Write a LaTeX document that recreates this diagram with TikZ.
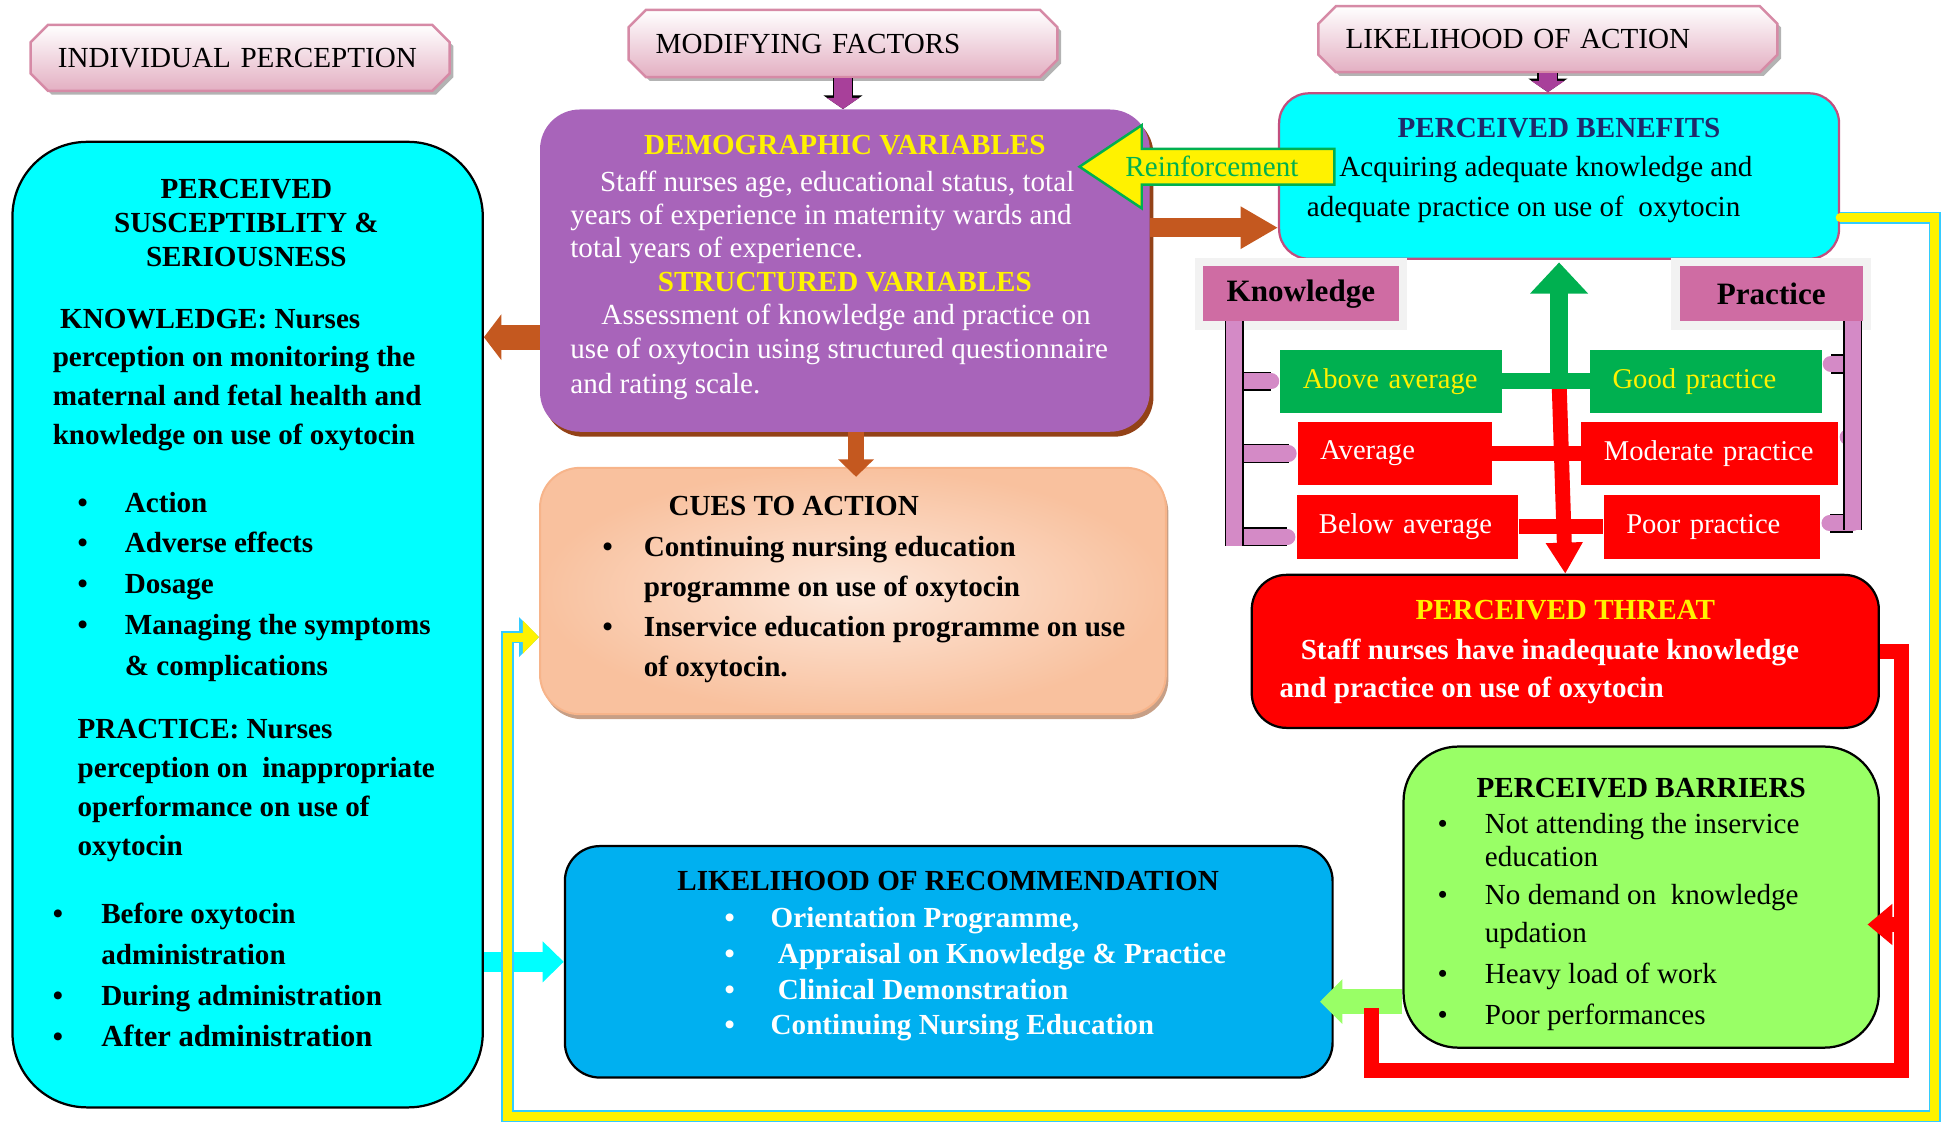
\documentclass[tikz,border=0pt]{standalone}
\usepackage{fontspec}
\setmainfont{Liberation Serif}
\usetikzlibrary{arrows.meta,shapes.misc,shadows}

\definecolor{bannerpink}{HTML}{E3AFC2}
\definecolor{bannerline}{HTML}{D68AA6}
\definecolor{plum}{HTML}{A864BA}
\definecolor{rust}{HTML}{C4581F}
\definecolor{peach}{HTML}{F7B48A}
\definecolor{peachlt}{HTML}{FDE8DB}
\definecolor{aqua}{HTML}{00FFFF}
\definecolor{rosy}{HTML}{C24F7E}
\definecolor{navy}{HTML}{1F2A6B}
\definecolor{leaf}{HTML}{00B050}
\definecolor{lime}{HTML}{99FF66}
\definecolor{sky}{HTML}{00B0F0}
\definecolor{mauve}{HTML}{CF6CA3}
\definecolor{lilac}{HTML}{D48AC6}
\definecolor{grape}{HTML}{A8409A}
\definecolor{skyline}{HTML}{33CCFF}

\newcommand{\bul}[1]{\makebox[#1][l]{\textbullet}}

\tikzset{
  every node/.style={inner sep=0pt, font=\fontsize{11.7}{13.5}\selectfont},
  banner/.style={chamfered rectangle, chamfered rectangle xsep=7pt, inner xsep=7pt, align=left,
    draw=bannerline, line width=1pt, top color=white, bottom color=bannerpink,
    drop shadow={shadow xshift=1.5pt, shadow yshift=-1.5pt, fill=gray, opacity=.6}},
  rbox/.style={draw=black, line width=0.9pt, rounded corners=12pt},
  tag/.style={fill=mauve, draw=gray!10, line width=3.5pt, font=\bfseries\fontsize{12.5}{14}\selectfont,
    drop shadow={shadow xshift=0.8pt, shadow yshift=-2pt, fill=mauve!60!gray, opacity=1}},
  lvl/.style={align=left, inner xsep=9pt, minimum height=25.5pt, font=\fontsize{11.5}{13}\selectfont},
  hd/.style={font=\bfseries\fontsize{11.7}{13.5}\selectfont},
  txt/.style={anchor=north west, align=left, font=\fontsize{11.7}{#1}\selectfont},
  btxt/.style={anchor=north west, align=left, font=\bfseries\fontsize{11.7}{#1}\selectfont},
  parrow/.style={draw=grape, line width=7pt, -{Triangle[width=13pt,length=4.5pt]},
    preaction={draw=black, line width=8.4pt, -{Triangle[width=15.5pt,length=5.5pt]}}},
  barrow/.style={draw=rust, line width=6.5pt, -{Triangle[width=14pt,length=7pt]}},
  rline/.style={draw=red, line width=6pt, line join=miter},
  gbar/.style={draw=leaf, line width=6.5pt, line cap=round},
  brk/.style={draw=lilac, line width=6.5pt, preaction={draw=black, line width=7.7pt}},
  tab/.style={draw=lilac, line width=6.5pt, line cap=round, preaction={draw=black, line width=7.7pt}},
  yline/.style={draw=yellow, line width=3.6pt, line cap=round, -{Triangle[width=13pt,length=6.5pt]},
    preaction={draw=skyline, line width=5pt, -{Triangle[width=15.5pt,length=8pt]}}},
}

\begin{document}
\begin{tikzpicture}[x=0.5pt, y=-0.5pt]
\useasboundingbox (0,0) rectangle (1568,903);

% headings
\node[banner, text width=146.5pt, minimum height=26.5pt] (ip) at (193,46.5) {INDIVIDUAL PERCEPTION};
\node[banner, text width=150.5pt, minimum height=27pt] (mf) at (677.5,35) {MODIFYING FACTORS};
\node[banner, text width=162.5pt, minimum height=26.5pt] (la) at (1244,31.5) {LIKELIHOOD OF ACTION};

% boxes
\node[rbox, fill=aqua, rounded corners=30pt, minimum width=189pt, minimum height=388pt] (ps) at (199,502) {};
\node[fill=plum, rounded corners=16pt, minimum width=245pt, minimum height=129.5pt,
  drop shadow={shadow xshift=1.5pt, shadow yshift=-2pt, fill=rust!75!black, opacity=1}] (demo) at (679,217.5) {};
\node[draw=peach, line width=0.8pt, inner color=peachlt, outer color=peach!75!peachlt, rounded corners=16pt,
  minimum width=251.5pt, minimum height=99pt,
  drop shadow={shadow xshift=1pt, shadow yshift=-2pt, fill=peach!60!gray, opacity=1}] (cues) at (685.5,475) {};
\node[rbox, fill=aqua, draw=rosy, minimum width=225pt, minimum height=66.5pt] (pb) at (1253,141.5) {};
\node[rbox, fill=red, rounded corners=14pt, minimum width=252pt, minimum height=61.5pt] (pt) at (1258,523.5) {};
\node[rbox, fill=lime, rounded corners=22pt, minimum width=191pt, minimum height=121pt] (bar) at (1319,721) {};
\node[rbox, fill=sky, rounded corners=14pt, minimum width=308.5pt, minimum height=93pt] (lr) at (762.5,773) {};

% knowledge and practice levels
\node[tag, minimum width=82pt, minimum height=25.5pt] (knw) at (1045.5,236) {Knowledge};
\node[tag, minimum width=77pt, minimum height=25.5pt] (prc) at (1423.5,236) {Practice};
\node[lvl, fill=leaf, text=yellow, text width=71pt] (aa) at (1118,306.5) {Above average};
\node[lvl, fill=leaf, text=yellow, text width=75pt] (gp) at (1371,306.5) {Good practice};
\node[lvl, fill=red, text=white, text width=60pt] (av) at (1121,364.5) {Average};
\node[lvl, fill=red, text=white, text width=85pt] (mp) at (1374,364.5) {Moderate practice};
\node[lvl, fill=red, text=white, text width=71pt] (ba) at (1131,423.5) {Below average};
\node[lvl, fill=red, text=white, text width=69pt] (pp) at (1376,423.5) {Poor practice};

\coordinate (ktop) at (992,258); \coordinate (kbot) at (992,439);
\coordinate (ptop) at (1489,258); \coordinate (pbot) at (1489,426);
\draw[tab] (ktop |- aa.west) -- ([xshift=-3.5pt]aa.west);
\draw[tab] (ktop |- av.west) -- ([xshift=-3.5pt]av.west);
\draw[tab] ([yshift=-4pt]ktop |- ba.west) -- ([xshift=-3.5pt,yshift=-4pt]ba.west);
\draw[tab] ([yshift=7pt]ptop |- gp.east) -- ([xshift=3.5pt,yshift=7pt]gp.east);
\draw[tab] ([yshift=6.5pt]ptop |- mp.east) -- ([xshift=-2pt,yshift=6.5pt]ptop |- mp.east);
\draw[tab] ([yshift=1.5pt]ptop |- pp.east) -- ([xshift=3.5pt,yshift=1.5pt]pp.east);
\draw[brk] (ktop) -- (kbot);
\draw[brk] (ptop) -- (pbot);

\draw[rline] (av.east) -- (mp.west);
\draw[rline] (ba.east) -- (pp.west);
\draw[rline, -{Triangle[width=14pt,length=12.5pt]}] (aa.east -| pb.south) -- (pt.north);
\draw[gbar] (aa.east) -- (gp.west);
\draw[draw=leaf, line width=7.5pt, -{Triangle[width=22.5pt,length=12.5pt]}] (aa.east -| pb.south) -- ([yshift=-1pt]pb.south);

% arrows between boxes
\draw[parrow] (mf.south) -- (mf.south |- demo.north);
\draw[parrow] (la.south) -- (la.south |- pb.north);
\draw[barrow] ([xshift=4.5pt]demo.south) -- ([xshift=4.5pt,yshift=-4pt]demo.south |- cues.north);
\draw[barrow, line width=10pt, -{Triangle[width=18pt,length=7pt]}] ([yshift=-26.75pt]demo.west) -- ([yshift=-26.75pt]demo.west -| ps.east);
\draw[barrow, line width=7.5pt, -{Triangle[width=16pt,length=15pt]}] ([yshift=17.25pt]demo.east) -- ([yshift=17.25pt]demo.east -| pb.west);

\node[minimum width=77pt, minimum height=14pt] (reinf) at (995,134) {};
\draw[fill=yellow, draw=leaf, line width=1pt] (reinf.north east) -- (reinf.north west) -- ++(0,9.5pt)
  -- ([xshift=-25pt]reinf.west) -- ([yshift=-9.5pt]reinf.south west) -- (reinf.south west) -- (reinf.south east) -- cycle;
\node[text=leaf] (reinftx) at (974,134) {Reinforcement};

\draw[draw=aqua, line width=8pt, -{Triangle[width=16pt,length=8.5pt]}] (lr.west -| ps.east) -- (lr.west);
\draw[draw=lime, line width=10pt, shorten >=-5.5pt, -{Triangle[width=17.5pt,length=9pt]}] ([yshift=-42pt]bar.west) -- ([yshift=-42pt]bar.west -| lr.east);

\coordinate (rc) at (1528,860); \coordinate (rend) at (1102,810); \coordinate (rbr) at (1528,743);
\draw[rline] (pt.east) -| (rc) -| (rend);
\draw[rline, shorten >=-5pt, -{Triangle[width=16pt,length=10pt]}] (rbr) -- (rbr -| bar.east);

\coordinate (yr) at (1555,897); \coordinate (yl) at (408,512);
\draw[yline] ([yshift=-16.75pt]pb.east) -| (yr) -| (yl) -- (yl -| cues.west);

% texts
\node[hd, text=yellow] (demohd) at (679,117) {DEMOGRAPHIC VARIABLES};
\node[txt=13.25pt, text=white] (demotx) at (458,137) {\hspace*{12pt}Staff nurses age, educational status, total\\years of experience in maternity wards and\\total years of experience.};
\node[hd, text=yellow] (strhd) at (679,227) {STRUCTURED VARIABLES};
\node[txt=13.75pt, text=white] (strtx) at (458,244) {\hspace*{12.5pt}Assessment of knowledge and practice on\\use of oxytocin using structured questionnaire\\and rating scale.};

\node[hd, anchor=west] (cueshd) at (537,407) {CUES TO ACTION};
\node[btxt=16pt] (cuestx) at (484,431) {\bul{16.5pt}Continuing nursing education\\\hspace*{16.5pt}programme on use of oxytocin\\\bul{16.5pt}Inservice education programme on use\\\hspace*{16.5pt}of oxytocin.};

\node[hd, align=center, anchor=north] (pshd) at (198,144) {PERCEIVED\\SUSCEPTIBLITY \&\\SERIOUSNESS};
\node[btxt=15.5pt] (knowtx) at (42,248) {\hspace*{3pt}KNOWLEDGE: Nurses\\perception on monitoring the\\maternal and fetal health and\\knowledge on use of oxytocin};
\node[btxt=16.4pt] (knowls) at (62,395) {\bul{19pt}Action\\\bul{19pt}Adverse effects\\\bul{19pt}Dosage\\\bul{19pt}Managing the symptoms\\\hspace*{19pt}\& complications};
\node[btxt=15.65pt] (practx) at (62,578) {PRACTICE: Nurses\\perception on\ \ inappropriate\\operformance on use of\\oxytocin};
\node[btxt=16.5pt] (prcls) at (42,725) {\bul{19.5pt}Before oxytocin\\\hspace*{19.5pt}administration\\\bul{19.5pt}During administration\\\bul{19.5pt}{\fontsize{12.3}{14}\selectfont After administration}};

\node[hd, text=navy] (pbhd) at (1253,103) {PERCEIVED BENEFITS};
\node[txt=16pt] (pbtx) at (1050,125) {\hspace*{13pt}Acquiring adequate knowledge and\\adequate practice on use of\ \ oxytocin};

\node[hd, text=yellow] (pthd) at (1258,490) {PERCEIVED THREAT};
\node[btxt=15.5pt, text=white] (pttx) at (1028,513) {\hspace*{8.5pt}Staff nurses have inadequate knowledge\\and practice on use of oxytocin};

\node[hd] (barhd) at (1319,633) {PERCEIVED BARRIERS};
\node[txt=13.5pt] (bartx) at (1155,653) {\bul{19pt}Not attending the inservice\\\hspace*{19pt}education\\[1.5pt]\bul{19pt}No demand on\ \ knowledge\\[2pt]\hspace*{19pt}updation\\[3pt]\bul{19pt}Heavy load of work\\[3pt]\bul{19pt}Poor performances};

\node[hd] (lrhd) at (762,708) {LIKELIHOOD OF RECOMMENDATION};
\node[btxt=14.35pt, text=white] (lrtx) at (582,729) {\bul{18.5pt}Orientation Programme,\\\bul{18.5pt}\ Appraisal on Knowledge \& Practice\\\bul{18.5pt}\ Clinical Demonstration\\\bul{18.5pt}Continuing Nursing Education};
\end{tikzpicture}
\end{document}
